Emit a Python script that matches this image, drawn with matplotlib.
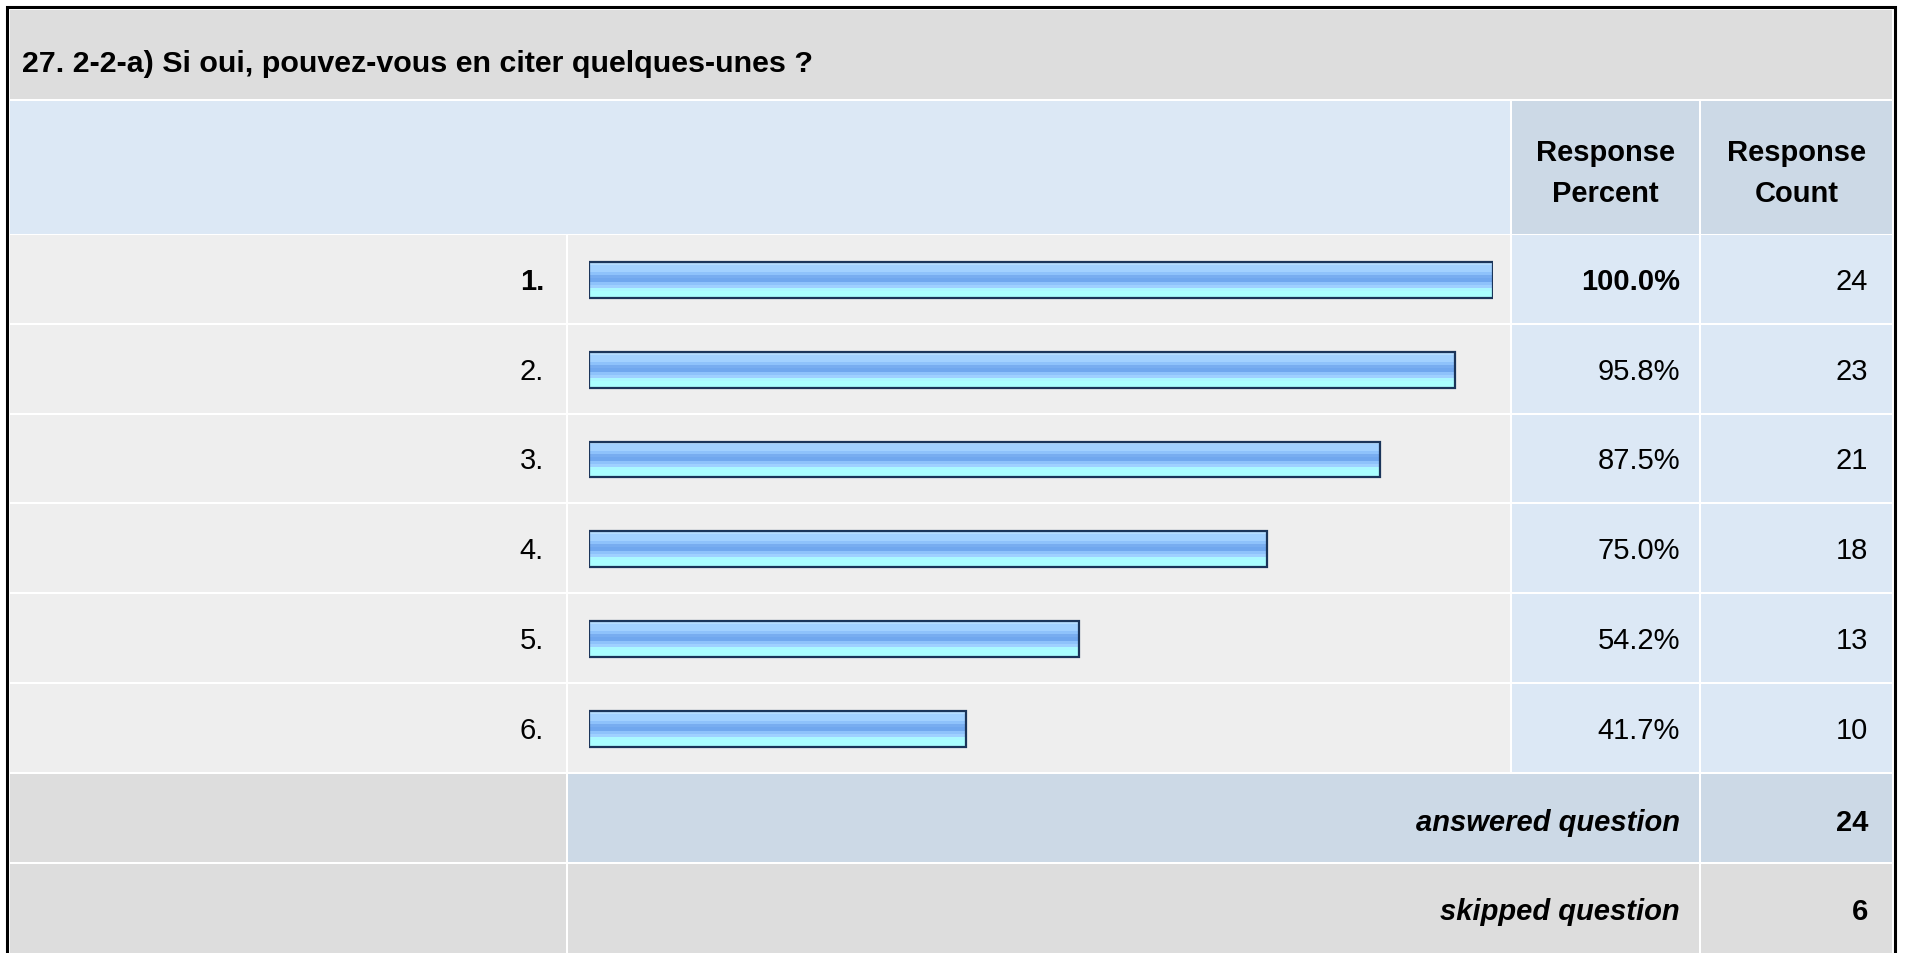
import numpy as np
import matplotlib.pyplot as plt
from matplotlib.patches import Rectangle
from matplotlib.colors import to_rgb

plt.rcParams['font.family'] = ['Liberation Sans', 'DejaVu Sans']

# data
title = "27. 2-2-a) Si oui, pouvez-vous en citer quelques-unes ?"
labels = ["1.", "2.", "3.", "4.", "5.", "6."]
percents = [100.0, 95.8, 87.5, 75.0, 54.2, 41.7]
counts = [24, 23, 21, 18, 13, 10]
answered = 24
skipped = 6

W, H = 1907, 954
fig = plt.figure(figsize=(W / 100, H / 100), dpi=100)
fig.patch.set_facecolor('white')

# background table in pixel coords
ax = fig.add_axes([0, 0, 1, 1])
ax.set_xlim(0, W)
ax.set_ylim(H, 0)
ax.axis('off')

GRAY = '#dddddd'
ROWBG = '#eeeeee'
LBLUE = '#dce8f5'
DBLUE = '#ccd9e6'

cols = [(10, 566), (568, 1510), (1512, 1699), (1701, 1892)]
pitch = 89.8
row_top0 = 236.0
row_h = pitch - 2
FS = 21


def cell(x0, x1, y0, y1, color):
    ax.add_patch(Rectangle((x0, y0), x1 - x0, y1 - y0, facecolor=color, edgecolor='none'))


# outer border
ax.add_patch(Rectangle((7, 8), 1888, 960, facecolor='white', edgecolor='black', lw=2.2))

# title bar
cell(10, 1892, 11, 100, GRAY)
ax.text(22, 64, title, fontsize=21.9, fontweight='bold', ha='left', va='center')

# header
cell(10, 1510, 102, 235, LBLUE)
cell(1512, 1699, 102, 235, DBLUE)
cell(1701, 1892, 102, 235, DBLUE)
for cx, word in [((1512 + 1699) / 2, "Percent"), ((1701 + 1892) / 2, "Count")]:
    ax.text(cx, 153, "Response", fontsize=FS, fontweight='bold', ha='center', va='center')
    ax.text(cx, 194, word, fontsize=FS, fontweight='bold', ha='center', va='center')

# data rows
for i, (lab, p, c) in enumerate(zip(labels, percents, counts)):
    y0 = row_top0 + i * pitch
    y1 = y0 + row_h
    cell(*cols[0], y0, y1, ROWBG)
    cell(*cols[1], y0, y1, ROWBG)
    cell(*cols[2], y0, y1, LBLUE)
    cell(*cols[3], y0, y1, LBLUE)
    yc = (y0 + y1) / 2 + 2
    w = 'bold' if i == 0 else 'normal'
    ax.text(544, yc, lab, fontsize=FS, fontweight=w, ha='right', va='center')
    ax.text(1680, yc, f"{p:.1f}%", fontsize=FS, fontweight=w, ha='right', va='center')
    ax.text(1868, yc, str(c), fontsize=FS, ha='right', va='center')

# summary rows
y0 = row_top0 + 6 * pitch
y1 = y0 + row_h
cell(*cols[0], y0, y1, GRAY)
cell(568, 1699, y0, y1, DBLUE)
cell(*cols[3], y0, y1, DBLUE)
yc = (y0 + y1) / 2 + 4
ax.text(1680, yc, "answered question", fontsize=FS, fontweight='bold', style='italic',
        ha='right', va='center')
ax.text(1868, yc, str(answered), fontsize=FS, fontweight='bold', ha='right', va='center')

y0 = row_top0 + 7 * pitch
y1 = H + 20
cell(*cols[0], y0, y1, GRAY)
cell(568, 1699, y0, y1, GRAY)
cell(*cols[3], y0, y1, GRAY)
yc = (y0 + y0 + row_h) / 2 + 4
ax.text(1680, yc, "skipped question", fontsize=FS, fontweight='bold', style='italic',
        ha='right', va='center')
ax.text(1868, yc, str(skipped), fontsize=FS, fontweight='bold', ha='right', va='center')

# bars axes
bx0, bx1 = 589, 1493
by0, by1 = row_top0, row_top0 + 6 * pitch
bax = fig.add_axes([bx0 / W, (H - by1) / H, (bx1 - bx0) / W, (by1 - by0) / H])
bax.axis('off')
bax.patch.set_alpha(0)

grad_cols = ['#b5ddff', '#a2d1ff', '#a2d1ff', '#8ec2fb', '#78adf0', '#70a7ee',
             '#8ec2fb', '#9fd0ff', '#aaf8ff', '#aaffff', '#aaffff']
grad = np.array([to_rgb(c) for c in grad_cols])[:, None, :]
bh = 0.40
yidx = np.arange(len(labels))
bax.barh(yidx, percents, height=bh, facecolor='none', edgecolor='#1b355a',
         linewidth=1.6, zorder=3)
for yi, p in zip(yidx, percents):
    bax.imshow(grad, extent=(0, p, yi + bh / 2, yi - bh / 2), aspect='auto',
               interpolation='nearest', zorder=2)
bax.set_xlim(0, 100)
bax.set_ylim(len(labels) - 0.5, -0.5)

fig.savefig('out.png', dpi=100, facecolor='white')
